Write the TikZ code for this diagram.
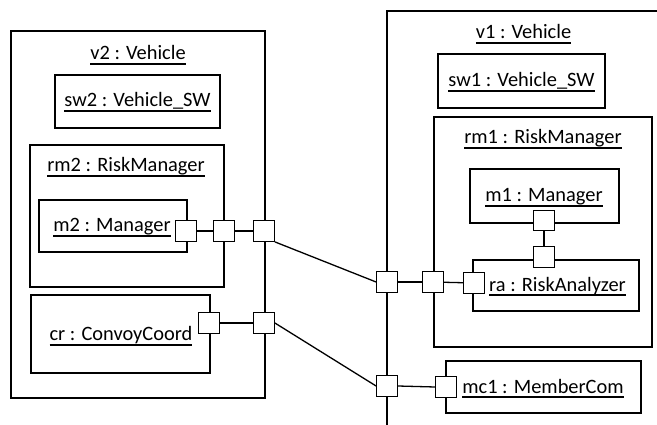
\documentclass[tikz,border=0pt]{standalone}
\usepackage{fontspec}
\setmainfont{Carlito}
% underlined object name, rule at a fixed depth below the baseline
\newcommand\objname[1]{\setbox0\hbox{#1}\rlap{\rule[-4.6pt]{\wd0}{1.2pt}}\box0}
\begin{document}
\begin{tikzpicture}[x=1pt,y=-1pt,
  every node/.style={font=\fontsize{20.4}{24}\selectfont},
  part/.style={draw,line width=1.3pt,fill=white,rectangle,inner sep=0pt},
  portbox/.style={draw,line width=1.3pt,fill=white,rectangle,inner sep=0pt,minimum size=20.5pt},
  lbl/.style={anchor=base,inner sep=0pt},
  wire/.style={line width=1.3pt}]
\useasboundingbox (0,0) rectangle (657,425);

% ---- v2 : Vehicle ----
\node[part,minimum width=254pt,minimum height=367pt] (v2) at (138,214.5) {};
\node[lbl] (v2t) at (138,60) {\objname{v2 : Vehicle}};
\node[part,minimum width=165pt,minimum height=53pt] (sw2) at (137.5,101.5) {};
\node[lbl] (sw2t) at (137.5,107) {\objname{sw2 : Vehicle\_SW}};
\node[part,minimum width=194pt,minimum height=142pt] (rm2) at (127,216) {};
\node[lbl] (rm2t) at (126,172) {\objname{rm2 : RiskManager}};
\node[part,minimum width=148pt,minimum height=52pt] (m2) at (113,226) {};
\node[lbl] (m2t) at (112,232) {\objname{m2 : Manager}};
\node[part,minimum width=179pt,minimum height=78pt] (cr) at (120.5,334) {};
\node[lbl] (crt) at (121,341) {\objname{cr : ConvoyCoord}};

% ---- v1 : Vehicle (continues past the right and bottom edges) ----
\coordinate (v1bl) at (387,425);
\coordinate (v1tl) at (387,11);
\coordinate (v1tr) at (657,11);
\draw[line width=1.3pt] (v1bl) -- (v1tl) -- (v1tr);
\node[lbl] (v1t) at (523.5,39) {\objname{v1 : Vehicle}};
\node[part,minimum width=167pt,minimum height=54pt] (sw1) at (521.5,81) {};
\node[lbl] (sw1t) at (521.5,87) {\objname{sw1 : Vehicle\_SW}};
\node[part,minimum width=218pt,minimum height=230pt] (rm1) at (543,232) {};
\node[lbl] (rm1t) at (543,144) {\objname{rm1 : RiskManager}};
\node[part,minimum width=149pt,minimum height=54pt] (m1) at (544.5,196) {};
\node[lbl] (m1t) at (544,202) {\objname{m1 : Manager}};
\node[part,minimum width=166pt,minimum height=51pt] (ra) at (556,285.5) {};
\node[lbl,anchor=base west] (rat) at (489,291) {\objname{ra : RiskAnalyzer}};
\node[part,minimum width=195pt,minimum height=52pt] (mc1) at (543.5,387) {};
\node[lbl] (mc1t) at (543,393) {\objname{mc1 : MemberCom}};

% ---- ports ----
\node[portbox] (pm2)  at (186,231) {};
\node[portbox] (prm2) at (224,231) {};
\node[portbox] (pv2a) at (264,231) {};
\node[portbox] (pcr)  at (209,323) {};
\node[portbox] (pv2b) at (264,323) {};
\node[portbox] (pv1a) at (387,282) {};
\node[portbox] (prm1) at (433,282) {};
\node[portbox] (pra)  at (474,283) {};
\node[portbox] (pm1)  at (544,220.5) {};
\node[portbox] (prat) at (544,257) {};
\node[portbox] (pv1b) at (387,386) {};
\node[portbox] (pmc1) at (446,387) {};

% ---- connectors ----
\draw[wire] (pm2) -- (prm2);
\draw[wire] (prm2) -- (pv2a);
\draw[wire] (pv2a.south east) -- (pv1a.west);
\draw[wire] (pcr) -- (pv2b);
\draw[wire] (pv2b.east) -- (pv1b.west);
\draw[wire] (pv1a) -- (prm1);
\draw[wire] (prm1) -- (pra);
\draw[wire] (pm1) -- (prat);
\draw[wire] (pv1b.east) -- (pmc1.west);
\end{tikzpicture}
\end{document}
